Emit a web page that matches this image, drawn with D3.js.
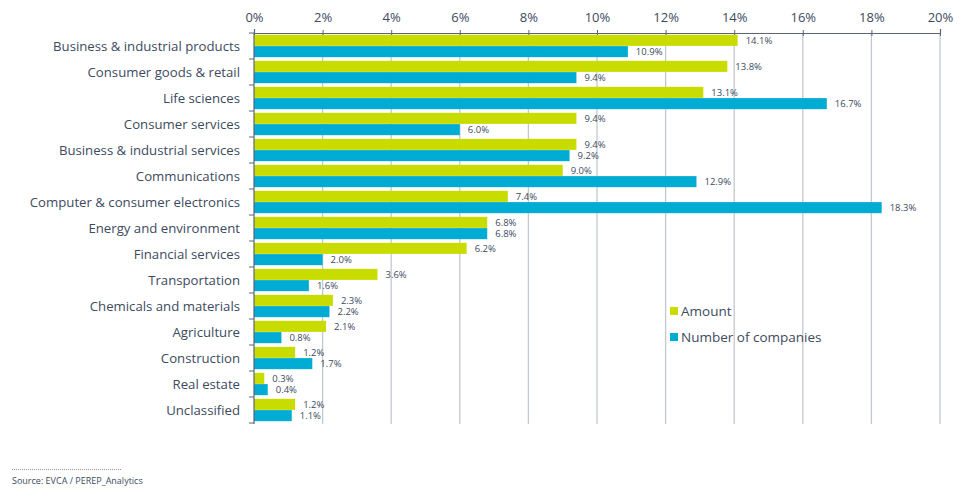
<!DOCTYPE html>
<html><head><meta charset="utf-8">
<script src="https://cdn.jsdelivr.net/npm/d3@7"></script>
<style>body{margin:0;background:#fff}svg{display:block}</style>
</head><body>
<script>
const categories = ["Business & industrial products","Consumer goods & retail","Life sciences","Consumer services","Business & industrial services","Communications","Computer & consumer electronics","Energy and environment","Financial services","Transportation","Chemicals and materials","Agriculture","Construction","Real estate","Unclassified"];
const amount = [14.1,13.8,13.1,9.4,9.4,9.0,7.4,6.8,6.2,3.6,2.3,2.1,1.2,0.3,1.2];
const companies = [10.9,9.4,16.7,6.0,9.2,12.9,18.3,6.8,2.0,1.6,2.2,0.8,1.7,0.4,1.1];
const xTicks = [0,2,4,6,8,10,12,14,16,18,20];
const seriesNames = ["Amount","Number of companies"];
const colors = ["#c8dc00","#00acd4"];

const W=960,H=493;
const svg=d3.select("body").append("svg").attr("width",W).attr("height",H);
const font="'Open Sans', sans-serif";
const txt="#3d4a5e";
const x=d3.scaleLinear().domain([0,20]).range([254,940]);
const y=d3.scaleBand().domain(categories).range([33,423]).paddingInner(0.14).paddingOuter(0.07);

// gridlines
svg.append("g").selectAll("line").data(xTicks.slice(1)).join("line")
  .attr("x1",d=>x(d)).attr("x2",d=>x(d)).attr("y1",33).attr("y2",424)
  .attr("stroke","#c3c8cf").attr("stroke-width",1.3);

// top axis
const ax=svg.append("g").attr("transform","translate(0,33)")
  .call(d3.axisTop(x).tickValues(xTicks).tickFormat(d=>d+"%").tickSize(4).tickPadding(7));
ax.select(".domain").attr("stroke","#5a6577").attr("stroke-width",1.2);
ax.selectAll(".tick line").attr("stroke","#5a6577").attr("y2",3).attr("y1",-3);
ax.selectAll("text").attr("font-family",font).attr("font-size",13).attr("fill",txt);

// bars
const sub=d3.scaleBand().domain([0,1]).range([0,y.bandwidth()]).paddingInner(0.02);
const data=[amount,companies];
data.forEach((vals,s)=>{
  svg.append("g").selectAll("rect").data(categories).join("rect")
    .attr("x",x(0)).attr("y",(c)=>y(c)+sub(s)).attr("height",sub.bandwidth())
    .attr("width",(c,i)=>x(vals[i])-x(0)).attr("fill",colors[s]);
  svg.append("g").selectAll("text").data(categories).join("text")
    .attr("x",(c,i)=>x(vals[i])+8).attr("y",(c)=>y(c)+sub(s)+sub.bandwidth()/2)
    .attr("dy","0.35em").attr("font-family",font).attr("font-size",9.5).attr("fill",txt)
    .text((c,i)=>vals[i].toFixed(1)+"%");
});

// left axis
const lax=svg.append("g").attr("transform","translate(254,0)");
lax.append("line").attr("x1",0).attr("x2",0).attr("y1",33).attr("y2",424).attr("stroke","#5a6577").attr("stroke-width",1.2);
const step=y.step();
const bounds=categories.map((c,i)=>y(c)-step*y.paddingInner()/2).concat([423]);
lax.selectAll("line.t").data(bounds).join("line").attr("class","t")
  .attr("x1",-5).attr("x2",0).attr("y1",d=>d).attr("y2",d=>d).attr("stroke","#5a6577");
lax.selectAll("text").data(categories).join("text")
  .attr("x",-14).attr("y",c=>y(c)+y.bandwidth()/2).attr("dy","0.35em").attr("text-anchor","end")
  .attr("font-family",font).attr("font-size",13.2).attr("fill",txt).text(c=>c);

// legend
const lg=svg.append("g").attr("transform","translate(670,307)");
seriesNames.forEach((n,i)=>{
  lg.append("rect").attr("x",0).attr("y",i*26).attr("width",8).attr("height",8).attr("fill",colors[i]);
  lg.append("text").attr("x",11).attr("y",i*26+4).attr("dy","0.38em").attr("font-family",font)
    .attr("font-size",13.5).attr("fill",txt).text(n);
});

// source
svg.append("line").attr("x1",12).attr("x2",122).attr("y1",469.5).attr("y2",469.5)
  .attr("stroke","#999").attr("stroke-dasharray","1,1");
svg.append("text").attr("x",12).attr("y",484).attr("font-family",font).attr("font-size",9).attr("fill",txt)
  .text("Source: EVCA / PEREP_Analytics");
</script>
</body></html>
